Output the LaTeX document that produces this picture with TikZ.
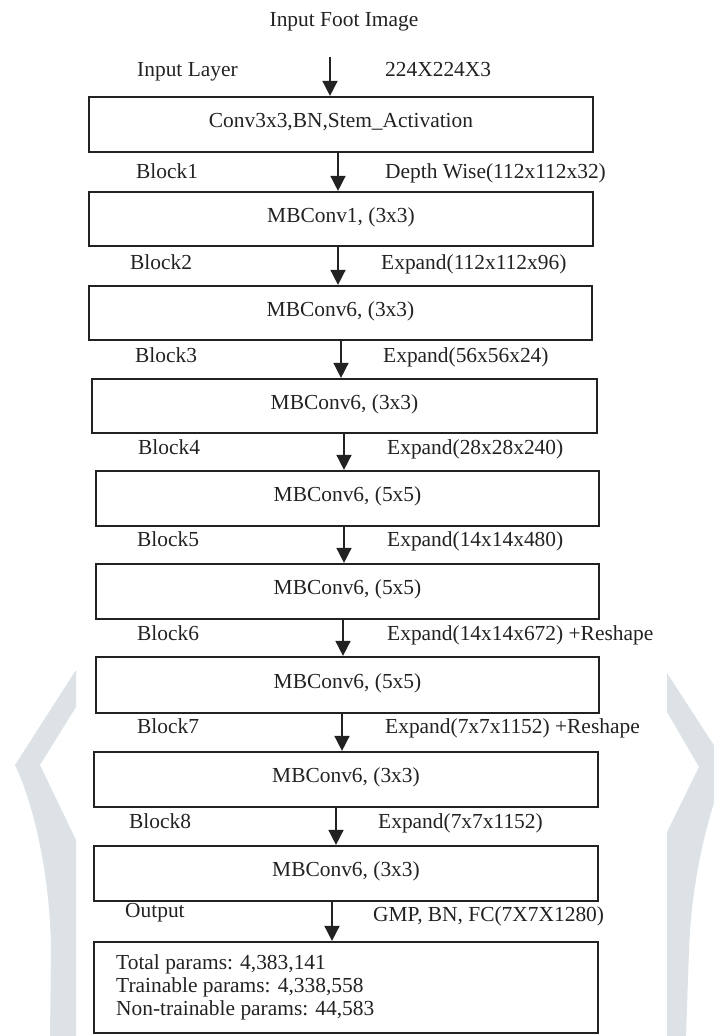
\documentclass[tikz,border=0pt]{standalone}
\usepackage{fontspec}
\setmainfont{Liberation Serif}
\usetikzlibrary{arrows.meta}
\definecolor{ink}{HTML}{222222}
\definecolor{wm}{HTML}{DCE2E6}
\begin{document}
\begin{tikzpicture}[x=1bp,y=-1bp,
  font=\fontsize{21.5}{23}\selectfont,
  box/.style={draw=ink, line width=2.2bp, inner sep=0, text=ink,
              text height=0.66em, text depth=0pt},
  lbl/.style={anchor=west, inner sep=0, text=ink, text height=0.66em, text depth=0pt},
  ttl/.style={inner sep=0, text=ink, text height=0.66em, text depth=0pt},
  arr/.style={draw=ink, line width=1.6bp, -{Triangle[width=15bp,length=15bp]}}]
\useasboundingbox (0,0) rectangle (714,1036);
% background watermark brackets
\begin{scope}
\clip (0,0) rectangle (714,1036);
\fill[wm] (76,670) -- (15,765) .. controls (32,800) and (50,870) .. (51,950)
  -- (50,1036) -- (76,1036) -- (76,840) -- (40,765) -- (76,707) -- cycle;
\fill[wm] (667,673) -- (728,767) .. controls (712,800) and (692,870) .. (689,950)
  -- (686,1036) -- (667,1036) -- (667,832) -- (699,767) -- (667,712) -- cycle;
\end{scope}
% title
\node[ttl] (title) at (344,23) {Input Foot Image};
% boxes
\node[box, minimum width=504bp, minimum height=55bp] (b1) at (341,124.5) {Conv3x3,BN,Stem\_Activation};
\node[box, minimum width=504bp, minimum height=54bp] (b2) at (341,219) {MBConv1, (3x3)};
\node[box, minimum width=503bp, minimum height=54bp] (b3) at (340.5,313) {MBConv6, (3x3)};
\node[box, minimum width=505bp, minimum height=54bp] (b4) at (344.5,406) {MBConv6, (3x3)};
\node[box, minimum width=503bp, minimum height=55bp] (b5) at (347.5,498.5) {MBConv6, (5x5)};
\node[box, minimum width=503bp, minimum height=55bp] (b6) at (347.5,591.5) {MBConv6, (5x5)};
\node[box, minimum width=503bp, minimum height=56bp] (b7) at (347.5,685) {MBConv6, (5x5)};
\node[box, minimum width=504bp, minimum height=55bp] (b8) at (346,779.5) {MBConv6, (3x3)};
\node[box, minimum width=504bp, minimum height=55bp] (b9) at (346,873.5) {MBConv6, (3x3)};
\node[box, minimum width=504bp, minimum height=91bp] (b10) at (346,987.5) {};
\node[lbl] (s1) at (116,966) {Total params: 4,383,141};
\node[lbl] (s2) at (116,989) {Trainable params: 4,338,558};
\node[lbl] (s3) at (116,1012) {Non-trainable params: 44,583};
% left labels
\node[lbl] (l0) at (137,73) {Input Layer};
\node[lbl] (l1) at (136,175) {Block1};
\node[lbl] (l2) at (130,266) {Block2};
\node[lbl] (l3) at (135,359) {Block3};
\node[lbl] (l4) at (138,451) {Block4};
\node[lbl] (l5) at (137,543) {Block5};
\node[lbl] (l6) at (137,637) {Block6};
\node[lbl] (l7) at (137,730) {Block7};
\node[lbl] (l8) at (129,825) {Block8};
\node[lbl] (l9) at (125,914) {Output};
% right labels
\node[lbl] (r0) at (385,73) {224X224X3};
\node[lbl] (r1) at (385,175) {Depth Wise(112x112x32)};
\node[lbl] (r2) at (381,266) {Expand(112x112x96)};
\node[lbl] (r3) at (383,359) {Expand(56x56x24)};
\node[lbl] (r4) at (387,451) {Expand(28x28x240)};
\node[lbl] (r5) at (387,543) {Expand(14x14x480)};
\node[lbl] (r6) at (387,637) {Expand(14x14x672) +Reshape};
\node[lbl] (r7) at (385,730) {Expand(7x7x1152) +Reshape};
\node[lbl] (r8) at (378,825) {Expand(7x7x1152)};
\node[lbl] (r9) at (373,918) {GMP, BN, FC(7X7X1280)};
% arrows
\coordinate (s0) at (330,57);
\coordinate (x2) at (338,0);
\coordinate (x3) at (338,0);
\coordinate (x4) at (341,0);
\coordinate (x5) at (344,0);
\coordinate (x6) at (344,0);
\coordinate (x7) at (343,0);
\coordinate (x8) at (342,0);
\coordinate (x9) at (336,0);
\coordinate (x10) at (332,0);
\draw[arr] (s0) -- (b1.north -| s0);
\draw[arr] (b1.south -| x2) -- (b2.north -| x2);
\draw[arr] (b2.south -| x3) -- (b3.north -| x3);
\draw[arr] (b3.south -| x4) -- (b4.north -| x4);
\draw[arr] (b4.south -| x5) -- (b5.north -| x5);
\draw[arr] (b5.south -| x6) -- (b6.north -| x6);
\draw[arr] (b6.south -| x7) -- (b7.north -| x7);
\draw[arr] (b7.south -| x8) -- (b8.north -| x8);
\draw[arr] (b8.south -| x9) -- (b9.north -| x9);
\draw[arr] (b9.south -| x10) -- (b10.north -| x10);
\end{tikzpicture}
\end{document}
